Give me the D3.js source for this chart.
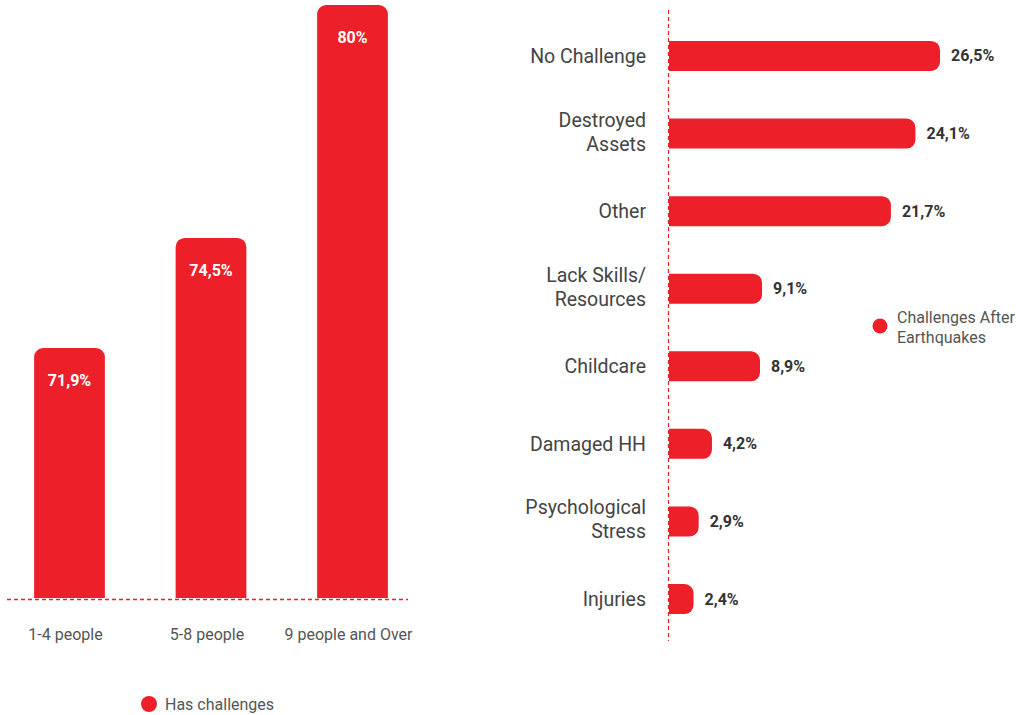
<!DOCTYPE html>
<html>
<head>
<meta charset="utf-8">
<script src="https://cdn.jsdelivr.net/npm/d3@7/dist/d3.min.js"></script>
<style>
  html, body { margin: 0; padding: 0; background: #fff; }
  svg { display: block; font-family: Roboto, "Open Sans", Arial, sans-serif; }
</style>
</head>
<body>
<svg id="chart" width="1016" height="715"></svg>
<script>
// Household size vs. share reporting challenges
const sizeGroups = ["1-4 people", "5-8 people", "9 people and Over"];
const sizeValues = [71.9, 74.5, 80];
const sizeLegend = "Has challenges";

// Challenges reported after the earthquakes
const challengeNames = [
  ["No Challenge"],
  ["Destroyed", "Assets"],
  ["Other"],
  ["Lack Skills/", "Resources"],
  ["Childcare"],
  ["Damaged HH"],
  ["Psychological", "Stress"],
  ["Injuries"]
];
const challengeValues = [26.5, 24.1, 21.7, 9.1, 8.9, 4.2, 2.9, 2.4];
const challengeLegend = ["Challenges After", "Earthquakes"];

const RED = "#ed1f28";
const fmt = v => String(v).replace(".", ",") + "%";

const svg = d3.select("#chart");

// Path for a rectangle with rounded corners on selected sides
function roundedRect(x, y, w, h, r, corners) {
  const [tl, tr, br, bl] = corners.map(c => c ? Math.min(r, w / 2, h / 2) : 0);
  return `M${x + tl},${y}` +
    `H${x + w - tr}` + (tr ? `A${tr},${tr} 0 0 1 ${x + w},${y + tr}` : "") +
    `V${y + h - br}` + (br ? `A${br},${br} 0 0 1 ${x + w - br},${y + h}` : "") +
    `H${x + bl}` + (bl ? `A${bl},${bl} 0 0 1 ${x},${y + h - bl}` : "") +
    `V${y + tl}` + (tl ? `A${tl},${tl} 0 0 1 ${x + tl},${y}` : "") + "Z";
}

// ---------- Left: vertical bars ----------
const left = svg.append("g");
const x1 = d3.scaleBand().domain(sizeGroups).range([-1.25, 423.25])
  .paddingInner(0.5).paddingOuter(0.25);
const y1 = d3.scaleLinear().domain([66, 80]).range([598, 5]);

left.selectAll("path.bar").data(sizeGroups).join("path")
  .attr("class", "bar")
  .attr("fill", RED)
  .attr("d", (d, i) => roundedRect(x1(d), y1(sizeValues[i]), x1.bandwidth(),
    y1.range()[0] - y1(sizeValues[i]), 9, [true, true, false, false]));

left.selectAll("text.val").data(sizeGroups).join("text")
  .attr("class", "val")
  .attr("x", d => x1(d) + x1.bandwidth() / 2)
  .attr("y", (d, i) => y1(sizeValues[i]) + 38)
  .attr("text-anchor", "middle")
  .attr("fill", "#fff")
  .attr("font-weight", 700)
  .attr("font-size", 16)
  .text((d, i) => fmt(sizeValues[i]));

left.append("line")
  .attr("x1", 7).attr("x2", 408)
  .attr("y1", 599.5).attr("y2", 599.5)
  .attr("stroke", RED).attr("stroke-width", 1.3)
  .attr("stroke-dasharray", "4,3");

const xAxis = left.append("g")
  .attr("transform", "translate(-4,640)")
  .call(d3.axisBottom(x1).tickSize(0).tickPadding(0));
xAxis.select(".domain").remove();
xAxis.selectAll("text")
  .attr("font-size", 16)
  .attr("font-family", "Roboto, sans-serif")
  .attr("fill", "#555")
  .attr("dy", 0);

const leg1 = left.append("g").attr("transform", "translate(149,704)");
leg1.append("circle").attr("r", 8).attr("fill", RED);
leg1.append("text").attr("x", 16).attr("y", 5.5)
  .attr("font-size", 16).attr("fill", "#555").text(sizeLegend);

// ---------- Right: horizontal bars ----------
const right = svg.append("g");
const idx = d3.range(challengeValues.length);
const yBand = d3.scaleBand().domain(idx).range([17.2, 637.8])
  .paddingInner(0.613).paddingOuter(0.3065);
const x2 = d3.scaleLinear().domain([0, 26.5]).range([669, 940]);

right.selectAll("path.bar").data(idx).join("path")
  .attr("class", "bar")
  .attr("fill", RED)
  .attr("d", i => roundedRect(x2(0), yBand(i), x2(challengeValues[i]) - x2(0),
    yBand.bandwidth(), 9, [false, true, true, false]));

right.selectAll("text.val").data(idx).join("text")
  .attr("class", "val")
  .attr("x", i => x2(challengeValues[i]) + 11)
  .attr("y", i => yBand(i) + yBand.bandwidth() / 2 + 5.5)
  .attr("fill", "#333")
  .attr("font-weight", 700)
  .attr("font-size", 16)
  .text(i => fmt(challengeValues[i]));

right.append("line")
  .attr("x1", 668.5).attr("x2", 668.5)
  .attr("y1", 10).attr("y2", 641)
  .attr("stroke", RED).attr("stroke-width", 1.2)
  .attr("stroke-dasharray", "4,3");

const cat = right.selectAll("text.cat").data(idx).join("text")
  .attr("class", "cat")
  .attr("text-anchor", "end")
  .attr("font-size", 19.5)
  .attr("fill", "#444")
  .attr("x", 646)
  .attr("y", i => yBand(i) + yBand.bandwidth() / 2 + 7 - (challengeNames[i].length - 1) * 14);
cat.selectAll("tspan").data(i => challengeNames[i]).join("tspan")
  .attr("x", 646)
  .attr("dy", (d, j) => j === 0 ? 0 : 24)
  .text(d => d);

const leg2 = right.append("g").attr("transform", "translate(880,326)");
leg2.append("circle").attr("r", 7.5).attr("fill", RED);
leg2.append("text").attr("x", 17).attr("y", -3)
  .attr("font-size", 16).attr("fill", "#555")
  .selectAll("tspan").data(challengeLegend).join("tspan")
  .attr("x", 17).attr("dy", (d, j) => j === 0 ? 0 : 20).text(d => d);
</script>
</body>
</html>
